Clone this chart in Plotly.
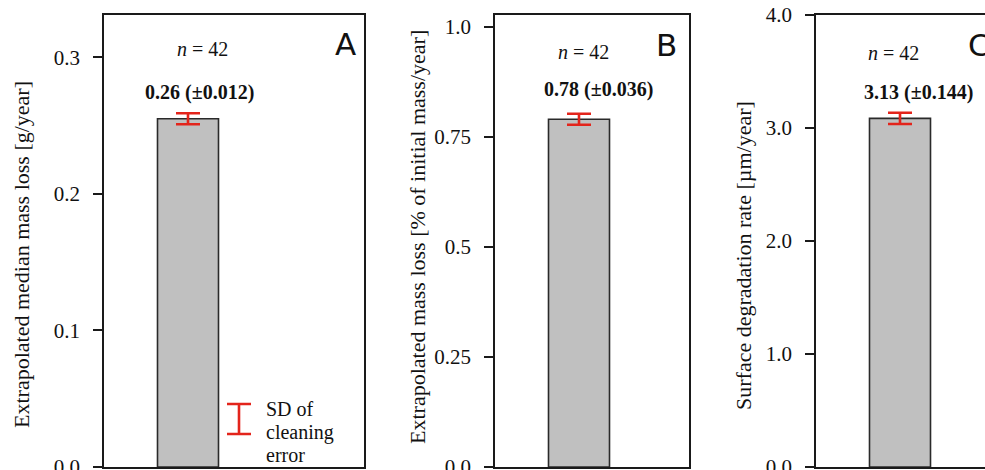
import plotly.graph_objects as go

# ---------------- data ----------------
panels = ["A", "B", "C"]
values = [0.255, 0.79, 3.085]
errors = [0.004, 0.0125, 0.05]
value_labels = ["0.26 (±0.012)", "0.78 (±0.036)", "3.13 (±0.144)"]
n_labels = ["<i>n</i> = 42", "<i>n</i> = 42", "<i>n</i> = 42"]
y_titles = [
    "Extrapolated median mass loss [g/year]",
    "Extrapolated mass loss [% of initial mass/year]",
    "Surface degradation rate [µm/year]",
]
y_max = [0.331, 1.027, 4.0]
tick_values = [[0, 0.1, 0.2, 0.3], [0, 0.25, 0.5, 0.75, 1.0], [0, 1, 2, 3, 4]]
tick_texts = [["0.0", "0.1", "0.2", "0.3"],
              ["0.0", "0.25", "0.5", "0.75", "1.0"],
              ["0.0", "1.0", "2.0", "3.0", "4.0"]]
legend_lines = ["SD of", "cleaning", "error"]

# ---------------- layout constants (pixels) ----------------
W, H = 1010, 490
TOP, BOTTOM = 15, 467
PH = BOTTOM - TOP
boxes = [(104, 364), (495, 689), (816, 1000)]
BAR_W = 61
BAR_OFF = 84
SERIF = "Liberation Serif"
SANS = "DejaVu Sans"
RED = "#e3241b"
INK = "#111111"
n_pos = [(202, 49), (583, 52), (893, 53)]
val_pos = [(199, 92), (598, 90), (918, 92)]
letter_pos = [(345, 44), (666, 45), (979, 45)]
title_pos = [(22, 255), (417, 237), (743, 256)]
leg_icon = (239, 419, 15)   # x center, y center, half height
leg_text_x = 264
leg_text_y = [409, 432, 455]


def px(x):
    return x / W


def py(y):
    return (BOTTOM - y) / PH


def note(x, y, text, size, family=SERIF, **kw):
    d = dict(x=px(x), y=py(y), xref="paper", yref="paper", text=text,
             showarrow=False, xanchor="center", yanchor="middle",
             font=dict(family=family, size=size, color=INK))
    d.update(kw)
    return d


fig = go.Figure()
layout = dict(
    width=W, height=H,
    margin=dict(l=0, r=0, t=TOP, b=H - BOTTOM),
    paper_bgcolor="white", plot_bgcolor="white",
    showlegend=False,
    font=dict(family=SERIF, size=20, color=INK),
)
annotations = []

for i, p in enumerate(panels):
    k = "" if i == 0 else str(i + 1)
    x0, x1 = boxes[i]
    fig.add_trace(go.Bar(
        x=[0], y=[values[i]], width=[BAR_W],
        xaxis="x" + k, yaxis="y" + k,
        marker=dict(color="#c0c0c0", line=dict(color="#2a2a2a", width=1.6)),
        error_y=dict(type="data", array=[errors[i]], color=RED,
                     thickness=2.6, width=12),
        hoverinfo="skip",
    ))
    layout["xaxis" + k] = dict(
        domain=[px(x0), px(x1)], range=[-BAR_OFF, (x1 - x0) - BAR_OFF],
        anchor="y" + k, showline=True, mirror=True, linecolor="#1a1a1a",
        linewidth=1.6, showticklabels=False, ticks="", showgrid=False,
        zeroline=False, fixedrange=True,
    )
    layout["yaxis" + k] = dict(
        anchor="x" + k, range=[0, y_max[i]], tickmode="array",
        tickvals=tick_values[i], ticktext=tick_texts[i],
        ticks="outside", ticklen=9, tickwidth=1.6, tickcolor="#1a1a1a",
        ticklabelstandoff=9,
        showline=True, mirror=True, linecolor="#1a1a1a", linewidth=1.6,
        showgrid=False, zeroline=False,
        tickfont=dict(family=SERIF, size=21, color=INK),
    )
    # inside half of the crossing ticks
    kk = str(i + 4)
    layout["yaxis" + kk] = dict(
        overlaying="y" + k, anchor="x" + k, side="left",
        range=[0, y_max[i]], tickmode="array", tickvals=tick_values[i],
        ticks="inside", ticklen=9, tickwidth=1.6, tickcolor="#1a1a1a",
        showticklabels=False, showline=False, showgrid=False, zeroline=False,
    )
    annotations += [
        note(*n_pos[i], n_labels[i], 20),
        note(*val_pos[i], "<b>" + value_labels[i] + "</b>", 20),
        note(*letter_pos[i], p, 31, family=SANS),
        note(*title_pos[i], y_titles[i], 22, textangle=-90),
    ]

# legend key (SD of cleaning error) inside panel A
lx, ly, lh = leg_icon
scale_a = y_max[0] / PH
fig.add_trace(go.Scatter(
    x=[lx - boxes[0][0] - BAR_OFF], y=[(BOTTOM - ly) * scale_a],
    xaxis="x", yaxis="y", mode="markers",
    marker=dict(size=1, color="rgba(0,0,0,0)"),
    error_y=dict(type="data", array=[lh * scale_a], color=RED,
                 thickness=2.6, width=12),
    hoverinfo="skip",
))
for line, yy in zip(legend_lines, leg_text_y):
    annotations.append(note(leg_text_x, yy, line, 20, xanchor="left"))

layout["annotations"] = annotations
fig.update_layout(**layout)

fig.write_html(
    "out.html",
    config={"displayModeBar": False},
    post_script="document.body.style.margin='0';document.body.style.overflow='hidden';",
)
